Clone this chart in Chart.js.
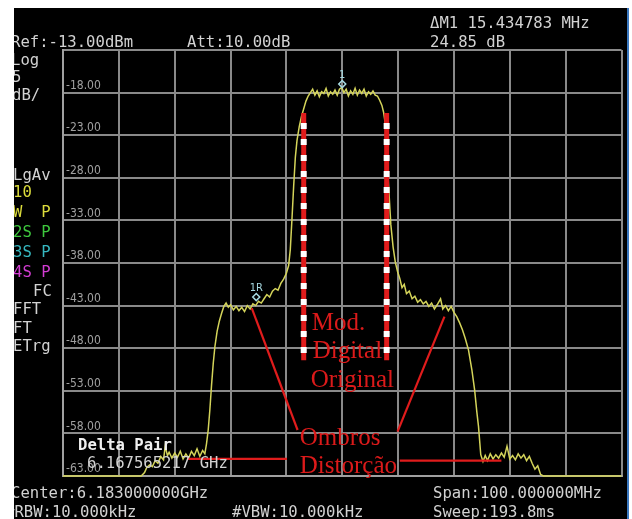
<!DOCTYPE html>
<html>
<head>
<meta charset="utf-8">
<script src="https://cdn.jsdelivr.net/npm/chart.js@4.4.0/dist/chart.umd.min.js"></script>
<style>
  html,body{margin:0;padding:0;background:#fff;}
  body{width:632px;height:519px;overflow:hidden;position:relative;}
  #screen{position:absolute;left:14px;top:8px;width:613px;height:511px;background:#000;border-right:2px solid #3a78c0;}
</style>
</head>
<body>
<div id="screen"><canvas id="spec"></canvas></div>
<script>
// spectrum trace: offset from center (MHz) and level (dBm)
const traceFreq = [
  -50, -36, -35.4, -35, -34.5, -34, -33.5, -33, -32.5, -32, -31.7, -31.3, -31, -30.5, -30,
  -29.5, -29, -28.5, -28, -27.5, -27, -26.5, -26, -25.5, -25, -24.6, -24.3, -24, -23.7, -23.4,
  -23.1, -22.8, -22.4, -22, -21.6, -21.2, -20.8, -20.4, -20, -19.5, -19, -18.5, -18, -17.5, -17,
  -16.5, -16, -15.5, -15, -14.5, -14, -13.5, -13, -12.5, -12, -11.5, -11, -10.5, -10, -9.6,
  -9.3, -9.0, -8.7, -8.4, -8.1, -7.7, -7.3, -6.9, -6.5, -6.1, -5.7, -5.3, -4.9, -4.5, -4.1,
  -3.7, -3.3, -2.9, -2.5, -2.1, -1.7, -1.3, -0.9, -0.5, -0.1, 0.3, 0.7, 1.1, 1.5, 1.9,
  2.3, 2.7, 3.1, 3.5, 3.9, 4.3, 4.7, 5.1, 5.5, 5.9, 6.3, 6.7, 7.1, 7.4, 7.7,
  8.0, 8.3, 8.7, 9.1, 9.5, 9.9, 10.3, 10.7, 11.1, 11.5, 12, 12.5, 13, 13.5, 14,
  14.5, 15, 15.5, 16, 16.5, 17, 17.6, 18, 18.5, 19, 19.5, 20, 20.5, 21, 21.5,
  22, 22.6, 23.2, 23.7, 24.1, 24.4, 24.8, 25.2, 25.6, 26, 26.5, 27, 27.5, 28, 28.5,
  29, 29.5, 30, 30.5, 31, 31.5, 32, 32.5, 33, 33.5, 34, 34.5, 35, 35.5, 36, 50
];
const traceLevel = [
  -63, -63, -62.6, -62.0, -61.7, -61.9, -61.2, -61.5, -60.7, -61.1, -59.5, -60.6, -60.2, -60.9, -60.3,
  -60.8, -60.1, -61.0, -60.4, -60.9, -60.1, -60.6, -59.8, -60.7, -60.0, -60.4, -59.2, -57.6, -55.2, -52.3,
  -49.8, -47.8, -46.0, -44.8, -43.9, -43.1, -42.7, -43.2, -42.9, -43.5, -43.1, -43.6, -43.2, -43.7, -43.0,
  -43.4, -42.8, -43.0, -42.5, -42.7, -42.2, -41.7, -42.0, -41.3, -41.0, -41.2, -40.4, -39.9, -39.2, -38.3,
  -36.4, -32.8, -29.0, -25.6, -23.6, -22.0, -20.8, -19.9, -19.0, -18.4, -18.0, -17.6, -18.3, -17.8, -18.5,
  -17.9, -18.1, -17.5, -18.4, -17.9, -18.2, -17.7, -18.3, -17.6, -17.4, -18.0, -17.6, -18.4, -17.8, -18.2,
  -17.5, -18.3, -17.7, -18.1, -17.6, -18.4, -17.9, -18.2, -17.8, -18.3, -18.4, -18.9, -19.5, -20.3, -21.6,
  -25.0, -29.0, -33.5, -36.1, -37.9, -39.0, -39.8, -40.9, -40.5, -41.6, -41.3, -42.2, -41.9, -42.6, -42.3,
  -42.8, -42.5, -43.1, -42.7, -43.4, -42.9, -42.2, -43.4, -43.0, -43.6, -43.1, -43.8, -44.3, -45.0, -45.8,
  -46.8, -48.2, -50.5, -52.9, -55.5, -57.2, -60.5, -61.3, -60.6, -61.2, -60.4, -61.0, -60.5, -60.9, -60.3,
  -60.8, -59.5, -61.0, -60.6, -61.1, -60.4, -60.9, -60.5, -61.2, -60.7, -61.5, -62.2, -61.8, -62.8, -63, -63
];

const freqTicks = [-50, -40, -30, -20, -10, 0, 10, 20, 30, 40, 50];
const levelTicks = [-63, -58, -53, -48, -43, -38, -33, -28, -23, -18, -13];

// markers 1 and 1R
const markerNames = ['1', '1R'];
const markerFreq = [0, -15.4];
const markerLevel = [-17.0, -42.0];

// red annotations (data units)
const modEdgeFreq = [-6.9, 7.95];
const modEdgeLevel = [-20.4, -49.4];
const shoulderLeft = [[-16.2, -43.3], [-8.0, -57.6]];
const shoulderRight = [[18.3, -44.3], [9.9, -57.8]];
const distortLeft = [[-27.8, -61.0], [-9.9, -61.0]];
const distortRight = [[10.3, -61.2], [28.5, -61.2]];
const annoText = ['Mod.', 'Digital', 'Original', 'Ombros', 'Distorção'];
const annoFreq = [-5.45, -5.3, -5.65, -7.6, -7.6];
const annoLevel = [-45.9, -49.15, -52.55, -59.4, -62.6];

const RED = '#e01c1c';
const seg = (a, b) => [{x: a[0], y: a[1]}, {x: b[0], y: b[1]}];
const vline = (f) => [{x: f, y: modEdgeLevel[0]}, {x: f, y: modEdgeLevel[1]}];

const overlay = {
  id: 'overlay',
  afterDraw(chart){
    const {ctx, scales: {x, y}} = chart;
    ctx.save();
    // annotation words
    ctx.fillStyle = '#dc1a1a';
    ctx.font = '25px "Liberation Serif"';
    ctx.textAlign = 'left';
    annoText.forEach((t, i) => ctx.fillText(t, x.getPixelForValue(annoFreq[i]), y.getPixelForValue(annoLevel[i])));
    // marker labels
    ctx.fillStyle = '#a6d8e0';
    ctx.font = '11px "DejaVu Sans Condensed"';
    ctx.textAlign = 'center';
    markerNames.forEach((n, i) => ctx.fillText(n, x.getPixelForValue(markerFreq[i]), y.getPixelForValue(markerLevel[i]) - 6));
    // instrument status text
    const grey = '#d2d2d2';
    const rows = [
      ['Ref:-13.00dBm', -3, 39, grey], ['Att:10.00dB', 173, 39, grey],
      ['ΔM1 15.434783 MHz', 416, 20, grey], ['24.85 dB', 416, 39, grey],
      ['Log', -3, 57, grey], ['5', -2, 74, grey], ['dB/', -2, 92, grey],
      ['LgAv', -1, 172, grey], ['10', -1, 189, '#dcdc3c'], ['W  P', -1, 209, '#dcdc3c'],
      ['2S P', -1, 229, '#3ec83e'], ['3S P', -1, 249, '#36b8c0'], ['4S P', -1, 269, '#d23cd2'],
      ['FC', 19, 288, grey], ['FFT', -1, 306, grey], ['FT', -1, 325, grey], ['ETrg', -1, 343, grey],
      ['6.167565217 GHz', 73, 460, grey],
      ['Center:6.183000000GHz', -3, 490, grey], ['#RBW:10.000kHz', -9, 509, grey],
      ['#VBW:10.000kHz', 218, 509, grey],
      ['Span:100.000000MHz', 419, 490, grey], ['Sweep:193.8ms', 419, 509, grey]
    ];
    ctx.textAlign = 'left';
    ctx.font = '15.6px "DejaVu Sans Mono"';
    rows.forEach(r => { ctx.fillStyle = r[3]; ctx.fillText(r[0], r[1], r[2]); });
    ctx.fillStyle = '#f0f0f0';
    ctx.font = 'bold 15.6px "DejaVu Sans Mono"';
    ctx.fillText('Delta Pair', 64, 442);
    ctx.restore();
  }
};

const gridOpts = {color: '#8a8a8a', lineWidth: 2, drawTicks: false};

new Chart(document.getElementById('spec'), {
  type: 'line',
  data: {
    datasets: [
      {data: traceFreq.map((f, i) => ({x: f, y: traceLevel[i]})), borderColor: '#d4d45a', borderWidth: 1.5,
       pointRadius: 0, tension: 0, clip: 4, order: 10},
      {data: vline(modEdgeFreq[0]), borderColor: RED, borderWidth: 5, pointRadius: 0, order: 6},
      {data: vline(modEdgeFreq[1]), borderColor: RED, borderWidth: 5, pointRadius: 0, order: 6},
      {data: vline(modEdgeFreq[0]), borderColor: '#ffffff', borderWidth: 6, borderDash: [6, 10], borderDashOffset: 6,
       borderCapStyle: 'butt', pointRadius: 0, order: 5},
      {data: vline(modEdgeFreq[1]), borderColor: '#ffffff', borderWidth: 6, borderDash: [6, 10], borderDashOffset: 6,
       borderCapStyle: 'butt', pointRadius: 0, order: 5},
      {data: seg(...shoulderLeft), borderColor: RED, borderWidth: 2.2, pointRadius: 0, order: 6},
      {data: seg(...shoulderRight), borderColor: RED, borderWidth: 2.2, pointRadius: 0, order: 6},
      {data: seg(...distortLeft), borderColor: RED, borderWidth: 2.2, pointRadius: 0, order: 6},
      {data: seg(...distortRight), borderColor: RED, borderWidth: 2.2, pointRadius: 0, order: 6},
      {data: markerFreq.map((f, i) => ({x: f, y: markerLevel[i]})), showLine: false, pointStyle: 'rectRot',
       pointRadius: 3.5, pointBorderColor: '#a6d8e0', pointBackgroundColor: 'rgba(0,0,0,0)', pointBorderWidth: 1.5, order: 3}
    ]
  },
  options: {
    responsive: true,
    maintainAspectRatio: false,
    animation: false,
    events: [],
    layout: {padding: {left: 49, top: 42, right: 5, bottom: 43}},
    plugins: {legend: {display: false}, tooltip: {enabled: false}},
    scales: {
      x: {
        type: 'linear', min: -50, max: 50,
        afterBuildTicks: s => { s.ticks = freqTicks.map(v => ({value: v})); },
        afterFit: s => { s.height = 0; },
        ticks: {display: false},
        grid: gridOpts,
        border: {color: '#a0a0a0', width: 2}
      },
      y: {
        type: 'linear', min: -63, max: -13,
        afterBuildTicks: s => { s.ticks = levelTicks.map(v => ({value: v})); },
        afterFit: s => { s.width = 0; },
        ticks: {
          mirror: true, padding: 3, labelOffset: -7, color: '#a0a0a0',
          font: {family: 'DejaVu Sans Condensed', size: 12},
          callback: v => v === -13 ? '' : v.toFixed(2)
        },
        grid: gridOpts,
        border: {color: '#a0a0a0', width: 2}
      }
    }
  },
  plugins: [overlay]
});
</script>
</body>
</html>
